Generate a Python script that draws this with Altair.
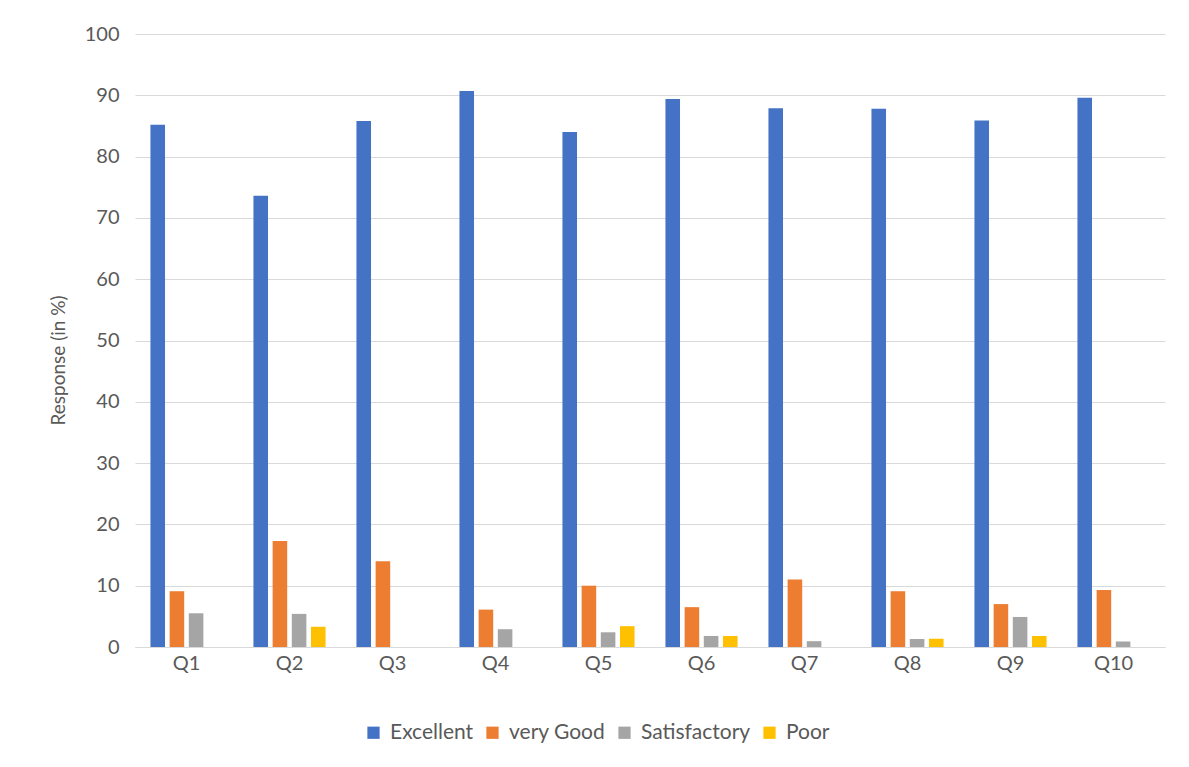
import altair as alt
import pandas as pd

questions = ["Q1", "Q2", "Q3", "Q4", "Q5", "Q6", "Q7", "Q8", "Q9", "Q10"]
series = ["Excellent", "very Good", "Satisfactory", "Poor"]
excellent = [85.2, 73.6, 85.8, 90.7, 84.0, 89.4, 87.9, 87.8, 85.9, 89.6]
very_good = [9.1, 17.3, 14.0, 6.1, 10.0, 6.5, 11.0, 9.1, 7.0, 9.3]
satisfactory = [5.5, 5.4, 0.0, 2.9, 2.4, 1.8, 0.95, 1.3, 4.9, 0.9]
poor = [0.0, 3.3, 0.0, 0.0, 3.4, 1.8, 0.0, 1.35, 1.8, 0.0]
colors = ["#4472C4", "#ED7D31", "#A5A5A5", "#FFC000"]

rows = []
for name, vals in zip(series, [excellent, very_good, satisfactory, poor]):
    for q, v in zip(questions, vals):
        rows.append({"Question": q, "Rating": name, "Value": v})
df = pd.DataFrame(rows)

font = "Lato"
txt = "#595959"

chart = alt.Chart(df).mark_bar().encode(
    x=alt.X("Question:N", sort=questions,
            scale=alt.Scale(paddingInner=0.3, paddingOuter=0.15),
            axis=alt.Axis(title=None, labelAngle=0, labelFontSize=20, labelColor=txt,
                          labelFont=font, ticks=False, domainColor="#D9D9D9",
                          labelPadding=6)),
    xOffset=alt.XOffset("Rating:N", sort=series, scale=alt.Scale(paddingInner=0.24)),
    y=alt.Y("Value:Q", scale=alt.Scale(domain=[0, 100]),
            axis=alt.Axis(title="Response (in %)", values=list(range(0, 101, 10)),
                          titleFontSize=19, titleFont=font, titleColor=txt,
                          titleFontWeight="normal", titlePadding=16, titleY=326,
                          labelFontSize=20, labelFont=font, labelColor=txt,
                          labelPadding=16, ticks=False, domain=False,
                          gridColor="#D9D9D9")),
    color=alt.Color("Rating:N", sort=series,
                    scale=alt.Scale(domain=series, range=colors),
                    legend=alt.Legend(title=None, orient="none", direction="horizontal",
                                      legendX=228, legendY=688,
                                      symbolType="square", symbolSize=150,
                                      symbolStrokeWidth=0,
                                      labelFontSize=21, labelFont=font, labelColor=txt,
                                      columnPadding=8, labelOffset=6)),
).properties(
    width=1030, height=613,
    autosize=alt.AutoSizeParams(type="none"),
    padding={"left": 127, "top": 26, "right": 16, "bottom": 100},
).configure_view(stroke=None)

chart.save("out.html", embed_options={"renderer": "svg", "actions": False})
